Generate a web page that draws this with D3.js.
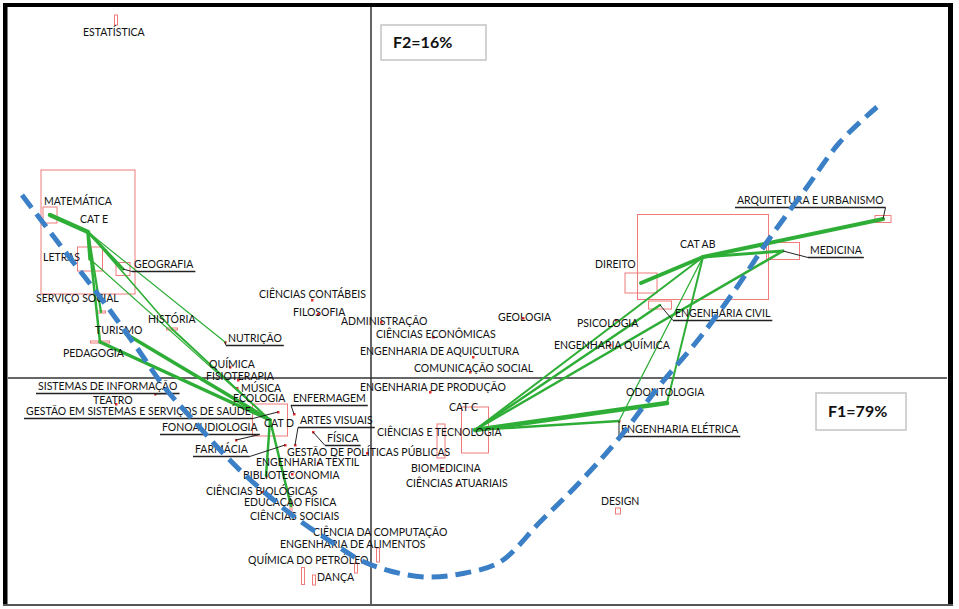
<!DOCTYPE html>
<html>
<head>
<meta charset="utf-8">
<script src="https://cdn.jsdelivr.net/npm/d3@7"></script>
<style>
  body { margin: 0; background: #fff; }
  text { font-family: Lato, "DejaVu Sans", sans-serif; }
</style>
</head>
<body>
<div id="chart"></div>
<script>
// categories (F1, F2 coordinates and their spread)
var catNames = ["CAT E", "CAT D", "CAT C", "CAT AB"];
var catF1 = [-2.83, -1.01, 1.04, 3.32];
var catF2 = [1.46, -0.42, -0.52, 1.21];
var catS1 = [0.94, 0.35, 0.27, 1.31];
var catS2 = [1.24, 0.32, 0.46, 0.85];

// courses
var courses = ["ESTATÍSTICA", "MATEMÁTICA", "LETRAS", "GEOGRAFIA", "SERVIÇO SOCIAL", "HISTÓRIA",
  "TURISMO", "PEDAGOGIA", "NUTRIÇÃO", "CIÊNCIAS CONTÁBEIS", "FILOSOFIA", "ADMINISTRAÇÃO",
  "CIÊNCIAS ECONÔMICAS", "ENGENHARIA DE AQUICULTURA", "COMUNICAÇÃO SOCIAL", "GEOLOGIA",
  "ENGENHARIA DE PRODUÇÃO", "CIÊNCIAS E TECNOLOGIA", "GESTÃO DE POLÍTICAS PÚBLICAS", "BIOMEDICINA",
  "CIÊNCIAS ATUARIAIS", "SISTEMAS DE INFORMAÇÃO", "TEATRO", "GESTÃO EM SISTEMAS E SERVIÇOS DE SAÚDE",
  "FONOAUDIOLOGIA", "FARMÁCIA", "QUÍMICA", "FISIOTERAPIA", "MÚSICA", "ECOLOGIA", "ENFERMAGEM",
  "ARTES VISUAIS", "FÍSICA", "ENGENHARIA TÊXTIL", "BIBLIOTECONOMIA", "CIÊNCIAS BIOLÓGICAS",
  "EDUCAÇÃO FÍSICA", "CIÊNCIAS SOCIAIS", "CIÊNCIA DA COMPUTAÇÃO", "ENGENHARIA DE ALIMENTOS",
  "QUÍMICA DO PETRÓLEO", "DANÇA", "PSICOLOGIA", "ENGENHARIA QUÍMICA", "DIREITO", "ENGENHARIA CIVIL",
  "MEDICINA", "ARQUITETURA E URBANISMO", "ODONTOLOGIA", "ENGENHARIA ELÉTRICA", "DESIGN"];
var courseF1 = [-2.55, -3.21, -2.81, -2.48, -2.70, -1.99, -2.45, -2.71, -1.46, -0.59, -0.53, 0.10,
  0.62, 1.02, 0.99, 1.52, 0.59, 0.70, -0.04, 0.71, 0.86, -2.16, -2.55, -0.93, -1.35, -0.86, -1.41,
  -1.33, -1.34, -1.15, -0.77, -0.76, -0.58, -0.53, -1.05, -1.09, -0.79, -0.80, 0.07, -0.15, -0.68,
  -0.57, 2.45, 2.39, 2.70, 2.89, 4.12, 5.12, 2.96, 2.48, 2.47];
var courseF2 = [3.58, 1.63, 1.19, 1.09, 0.66, 0.49, 0.44, 0.36, 0.36, 0.78, 0.64, 0.56,
  0.41, 0.21, 0.06, 0.60, -0.14, -0.63, -0.75, -0.90, -1.07, -0.16, -0.26, -0.34, -0.62, -0.67, 0.11,
  -0.02, -0.10, -0.33, -0.36, -0.67, -0.54, -0.85, -0.98, -1.14, -0.96, -1.28, -1.77, -1.90, -1.98,
  -2.02, 0.58, 0.33, 0.95, 0.73, 1.27, 1.59, -0.25, -0.43, -1.33];
var courseS1 = [0.03, 0.14, 0.25, 0.14, 0.09, 0.11, 0, 0.19, 0, 0, 0, 0,
  0, 0, 0, 0, 0, 0.08, 0, 0, 0, 0, 0, 0, 0, 0, 0,
  0, 0, 0, 0, 0, 0, 0, 0, 0, 0, 0.02, 0.03, 0.03, 0.03,
  0.03, 0, 0, 0.32, 0.23, 0.33, 0.16, 0, 0, 0.05];
var courseS2 = [0.10, 0.16, 0.24, 0.13, 0.02, 0.02, 0, 0.02, 0, 0, 0, 0,
  0, 0, 0, 0, 0, 0.34, 0, 0, 0, 0, 0, 0, 0, 0, 0,
  0, 0, 0, 0, 0, 0, 0, 0, 0, 0, 0.12, 0.14, 0.10, 0.17,
  0.10, 0, 0, 0.20, 0.08, 0.17, 0.07, 0, 0, 0.06];

// category-course associations: [category, course, strength]
var links = [
  ["CAT E", "MATEMÁTICA", 4.5], ["CAT E", "LETRAS", 3.5], ["CAT E", "SERVIÇO SOCIAL", 2.2],
  ["CAT E", "PEDAGOGIA", 2.5], ["CAT E", "GEOGRAFIA", 3], ["CAT E", "HISTÓRIA", 1.6],
  ["CAT E", "NUTRIÇÃO", 1.2],
  ["CAT D", "LETRAS", 1.2], ["CAT D", "HISTÓRIA", 2], ["CAT D", "PEDAGOGIA", 3.5],
  ["CAT D", "TURISMO", 3.5], ["CAT D", "BIBLIOTECONOMIA", 2.5], ["CAT D", "CIÊNCIAS SOCIAIS", 2.5],
  ["CAT C", "ODONTOLOGIA", 4.5], ["CAT C", "ENGENHARIA ELÉTRICA", 2.5], ["CAT C", "ENGENHARIA CIVIL", 2.5],
  ["CAT C", "MEDICINA", 2.5],
  ["CAT AB", "DIREITO", 4], ["CAT AB", "MEDICINA", 3], ["CAT AB", "ARQUITETURA E URBANISMO", 4],
  ["CAT AB", "ODONTOLOGIA", 2], ["CAT AB", "ENGENHARIA ELÉTRICA", 1.3], ["CAT AB", "CAT C", 2]
];

// trend curve drawn over the map
var curveF1 = [-3.49, -3.11, -2.71, -2.36, -2.06, -1.76, -1.51, -1.26, -1.01, -0.71, -0.41, -0.11,
  0.19, 0.54, 0.89, 1.29, 1.69, 2.09, 2.49, 2.89, 3.27, 3.64, 3.96, 4.36, 4.69, 5.06];
var curveF2 = [1.83, 1.33, 0.81, 0.33, -0.10, -0.44, -0.72, -0.97, -1.19, -1.43, -1.63, -1.82,
  -1.93, -1.99, -1.96, -1.84, -1.44, -1.04, -0.59, -0.07, 0.38, 0.88, 1.36, 1.91, 2.36, 2.71];

// label placement (pixel offsets from the point)
var catLabelOffset = [[-8, -13], [-6, 3], [-26, -23], [-23, -13]];
var courseLabelOffset = [[-33, 12], [-6, -14], [-47, -2], [11, -5], [-65, -14], [-24, -10],
  [-31, -4], [-37, 11], [3, -4], [-53, -6], [-25, -2], [-40, -1],
  [-57, -3], [-113, -6], [-56, -4], [-25, -1], [-70, -5], [-64, -9], [-80, -1], [-31, 0],
  [-51, -2], [-117, -8], [-23, -4], [-252, -1], [-74, -13], [-90, 4], [-21, -3],
  [-32, -4], [4, 0], [-23, -13], [-1, -16], [5, -25], [14, 6], [-62, -1], [-23, -1], [-56, -1],
  [-48, 28], [-41, 10], [-65, -23], [-76, -24], [-55, -16],
  [3, -3], [-39, 3], [-56, 0], [-46, -19], [15, 8], [27, -1], [-146, -19], [-41, -11], [2, 8], [-17, -10]];
var underlined = ["GEOGRAFIA", "NUTRIÇÃO", "SISTEMAS DE INFORMAÇÃO", "GESTÃO EM SISTEMAS E SERVIÇOS DE SAÚDE",
  "FONOAUDIOLOGIA", "FARMÁCIA", "ENFERMAGEM", "ARTES VISUAIS", "FÍSICA", "ENGENHARIA CIVIL",
  "MEDICINA", "ARQUITETURA E URBANISMO", "ENGENHARIA ELÉTRICA"];

var svgWidth = 959;
var svgHeight = 609;

var svg = d3.select("#chart")
  .append("svg")
  .attr("width", svgWidth)
  .attr("height", svgHeight);

var xScale = d3.scaleLinear().domain([-3.63, 5.79]).range([8, 950]);
var yScale = d3.scaleLinear().domain([-2.26, 3.71]).range([604, 7]);

var nodes = {};
catNames.forEach(function(n, i) {
  nodes[n] = {name: n, f1: catF1[i], f2: catF2[i], s1: catS1[i], s2: catS2[i], off: catLabelOffset[i]};
});
courses.forEach(function(n, i) {
  nodes[n] = {name: n, f1: courseF1[i], f2: courseF2[i], s1: courseS1[i], s2: courseS2[i], off: courseLabelOffset[i]};
});
var allNodes = Object.values(nodes);

// axes through the origin
svg.append("line")
  .attr("x1", xScale(0)).attr("x2", xScale(0))
  .attr("y1", 7).attr("y2", 604)
  .attr("stroke", "#333").attr("stroke-width", 1.5);
svg.append("line")
  .attr("x1", 8).attr("x2", 947)
  .attr("y1", yScale(0)).attr("y2", yScale(0))
  .attr("stroke", "#333").attr("stroke-width", 1.5);

// spread boxes
var boxed = allNodes.filter(d => d.s1 > 0);
svg.selectAll("rect.box")
  .data(boxed)
  .enter()
  .append("rect")
  .attr("class", "box")
  .attr("x", d => xScale(d.f1 - d.s1 / 2))
  .attr("y", d => yScale(d.f2 + d.s2 / 2))
  .attr("width", d => xScale(d.s1) - xScale(0))
  .attr("height", d => yScale(0) - yScale(d.s2))
  .attr("fill", "none")
  .attr("stroke", "#f07b7b")
  .attr("stroke-width", 1);

// points
svg.selectAll("rect.pt")
  .data(allNodes.filter(d => d.s1 === 0))
  .enter()
  .append("rect")
  .attr("class", "pt")
  .attr("x", d => xScale(d.f1) - 1)
  .attr("y", d => yScale(d.f2) - 1)
  .attr("width", 2.5)
  .attr("height", 2.5)
  .attr("fill", "#e03030");

// association lines
svg.selectAll("line.link")
  .data(links)
  .enter()
  .append("line")
  .attr("class", "link")
  .attr("x1", d => xScale(nodes[d[0]].f1))
  .attr("y1", d => yScale(nodes[d[0]].f2))
  .attr("x2", d => xScale(nodes[d[1]].f1))
  .attr("y2", d => yScale(nodes[d[1]].f2))
  .attr("stroke", "#2fae37")
  .attr("stroke-width", d => d[2])
  .attr("stroke-linecap", "round");

// labels
var labels = svg.selectAll("text.lbl")
  .data(allNodes)
  .enter()
  .append("text")
  .attr("class", "lbl")
  .attr("x", d => xScale(d.f1) + d.off[0])
  .attr("y", d => yScale(d.f2) + d.off[1])
  .attr("dy", "0.36em")
  .attr("fill", "#111")
  .style("font-size", "10.5px")
  .text(d => d.name);

// underlines with leader to the point
labels.filter(d => underlined.indexOf(d.name) >= 0).each(function(d) {
  var len = this.getComputedTextLength();
  var lx = xScale(d.f1) + d.off[0] - 2;
  var rx = lx + len + 4;
  var uy = yScale(d.f2) + d.off[1] + 7.5;
  var px = xScale(d.f1), py = yScale(d.f2);
  svg.append("line")
    .attr("x1", lx).attr("x2", rx).attr("y1", uy).attr("y2", uy)
    .attr("stroke", "#222").attr("stroke-width", 1.3);
  var ex = Math.abs(px - lx) < Math.abs(px - rx) ? lx : rx;
  svg.append("line")
    .attr("x1", ex).attr("y1", uy).attr("x2", px).attr("y2", py)
    .attr("stroke", "#222").attr("stroke-width", 1);
});

// dashed trend curve
var curvePts = curveF1.map((v, i) => [v, curveF2[i]]);
var curveLine = d3.line()
  .x(d => xScale(d[0]))
  .y(d => yScale(d[1]))
  .curve(d3.curveCatmullRom);
svg.append("path")
  .attr("d", curveLine(curvePts))
  .attr("fill", "none")
  .attr("stroke", "#3b80c6")
  .attr("stroke-width", 5)
  .attr("stroke-dasharray", "16,8");

// factor boxes
function factorBox(x, y, w, h, label) {
  svg.append("rect")
    .attr("x", x).attr("y", y).attr("width", w).attr("height", h)
    .attr("fill", "#fff").attr("stroke", "#c4c4c4").attr("stroke-width", 1.5);
  svg.append("text")
    .attr("x", x + 12).attr("y", y + h / 2)
    .attr("dy", "0.36em")
    .style("font-size", "16px")
    .style("font-weight", "bold")
    .attr("fill", "#111")
    .text(label);
}
factorBox(381, 25, 105, 35, "F2=16%");
factorBox(816, 393, 90, 37, "F1=79%");

// frame
svg.append("rect").attr("x", 3).attr("y", 3).attr("width", 950).attr("height", 4).attr("fill", "#000");
svg.append("rect").attr("x", 3).attr("y", 3).attr("width", 4.5).attr("height", 603).attr("fill", "#000");
svg.append("rect").attr("x", 948).attr("y", 3).attr("width", 5).attr("height", 603).attr("fill", "#000");
svg.append("rect").attr("x", 3).attr("y", 604).attr("width", 950).attr("height", 2).attr("fill", "#555");
</script>
</body>
</html>
